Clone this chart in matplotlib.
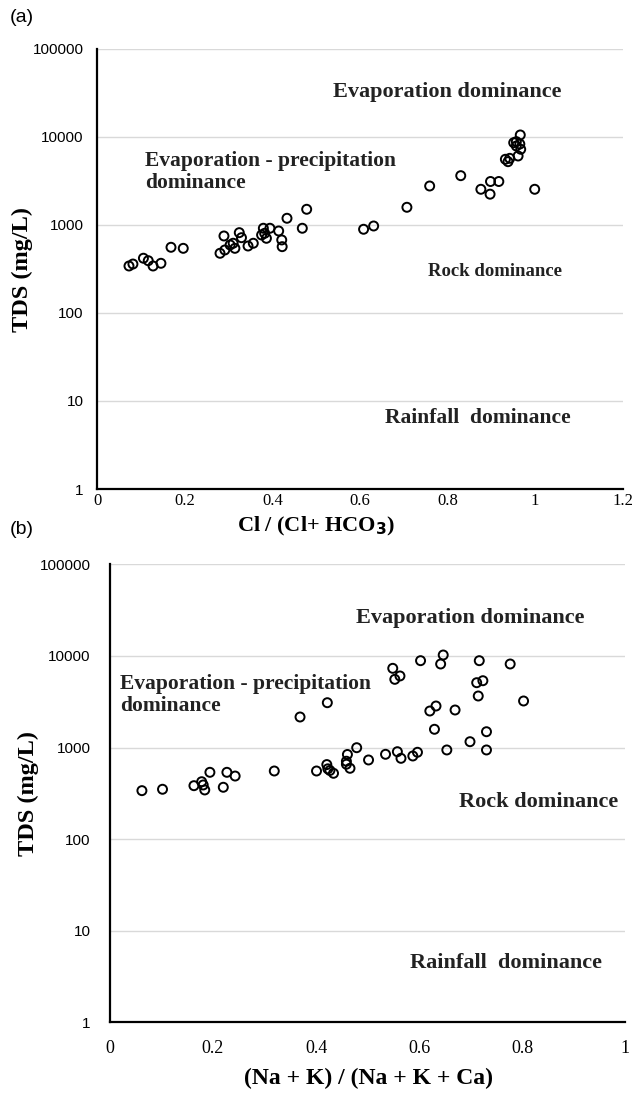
import numpy as np
import matplotlib.pyplot as plt

# panel (a): Cl / (Cl + HCO3) vs TDS
cl_ratio = [0.072, 0.081, 0.105, 0.116, 0.127, 0.145, 0.168, 0.196,
            0.289, 0.280, 0.291, 0.303, 0.310, 0.314, 0.324, 0.329, 0.344, 0.356,
            0.379, 0.382, 0.394, 0.375, 0.386, 0.414, 0.421, 0.422, 0.433, 0.468, 0.478,
            0.608, 0.631, 0.707, 0.759, 0.830, 0.876, 0.898, 0.917, 0.897, 0.999,
            0.932, 0.938, 0.942, 0.961, 0.951, 0.957, 0.965, 0.967, 0.957, 0.966]
tds_a = [342, 360, 419, 393, 342, 367, 558, 543,
         750, 477, 520, 593, 620, 543, 818, 717, 577, 620,
         918, 805, 918, 770, 706, 855, 676, 567, 1192, 918, 1508,
         894, 974, 1589, 2773, 3633, 2545, 3120, 3120, 2239, 2545,
         5580, 5240, 5720, 6080, 8610, 8850, 8320, 7250, 7900, 10540]

# panel (b): (Na + K) / (Na + K + Ca) vs TDS
na_ratio = [0.062, 0.102, 0.163, 0.178, 0.181, 0.184, 0.194, 0.220, 0.227, 0.243,
            0.319, 0.369, 0.401, 0.421, 0.423, 0.427, 0.434, 0.422,
            0.461, 0.459, 0.459, 0.466, 0.479, 0.502, 0.535, 0.558, 0.565, 0.588, 0.597,
            0.549, 0.553, 0.563, 0.603, 0.647, 0.642, 0.717, 0.777, 0.712, 0.724,
            0.715, 0.803, 0.621, 0.633, 0.670, 0.630, 0.699, 0.731, 0.654, 0.731]
tds_b = [338, 350, 383, 423, 390, 344, 536, 368, 536, 488,
         554, 2153, 554, 651, 585, 561, 523, 3084,
         839, 708, 657, 593, 995, 731, 843, 900, 762, 808, 887,
         7320, 5550, 6040, 8870, 10230, 8160, 8870, 8160, 5100, 5360,
         3650, 3220, 2503, 2838, 2567, 1581, 1157, 1487, 940, 940]

yticks = [1, 10, 100, 1000, 10000, 100000]
ytick_labels = ['1', '10', '100', '1000', '10000', '100000']
xticks_a = [0, 0.2, 0.4, 0.6, 0.8, 1, 1.2]
xtick_labels_a = ['0', '0.2', '0.4', '0.6', '0.8', '1', '1.2']
xticks_b = [0, 0.2, 0.4, 0.6, 0.8, 1]
xtick_labels_b = ['0', '0.2', '0.4', '0.6', '0.8', '1']

serif = 'Liberation Serif'
sans = 'Liberation Sans'

fig = plt.figure(figsize=(6.35, 10.93), dpi=100)
ax_a = fig.add_axes([0.1535, 0.5526, 0.8271, 0.4026])
ax_b = fig.add_axes([0.1732, 0.0647, 0.8111, 0.4190])


def style(ax, xmax, xticks, xlabels, ypad, xpad, xsize):
    ax.set_yscale('log')
    ax.set_ylim(1, 100000)
    ax.set_xlim(0, xmax)
    ax.set_yticks(yticks)
    ax.set_yticklabels(ytick_labels, fontfamily=sans, fontsize=11)
    ax.yaxis.set_minor_locator(plt.NullLocator())
    ax.set_xticks(xticks)
    ax.set_xticklabels(xlabels, fontfamily=serif, fontsize=xsize)
    ax.tick_params(axis='y', length=0, pad=ypad)
    ax.tick_params(axis='x', length=0, pad=xpad)
    ax.grid(axis='y', color='#d9d9d9', linewidth=1)
    ax.set_axisbelow(True)
    for s in ['top', 'right']:
        ax.spines[s].set_visible(False)
    for s in ['left', 'bottom']:
        ax.spines[s].set_linewidth(1.6)
        ax.spines[s].set_color('black')


style(ax_a, 1.2, xticks_a, xtick_labels_a, 10, 3, 12)
style(ax_b, 1.0, xticks_b, xtick_labels_b, 14, 13, 13)

ax_a.scatter(cl_ratio, tds_a, s=42, facecolors='none', edgecolors='black', linewidths=1.4, zorder=3)
ax_b.scatter(na_ratio, tds_b, s=42, facecolors='none', edgecolors='black', linewidths=1.4, zorder=3)

txt = dict(fontfamily=serif, fontweight='bold', color='#222222', va='center', ha='left')

ax_a.text(0.538, 32400, 'Evaporation dominance', fontsize=16, **txt)
ax_a.text(0.108, 4000, 'Evaporation - precipitation\ndominance', fontsize=15.5,
          linespacing=1.1, **txt)
ax_a.text(0.755, 300, 'Rock dominance', fontsize=13.5, **txt)
ax_a.text(0.658, 6.4, 'Rainfall  dominance', fontsize=15.5, **txt)

ax_b.text(0.478, 25900, 'Evaporation dominance', fontsize=16, **txt)
ax_b.text(0.019, 3740, 'Evaporation - precipitation\ndominance', fontsize=15.5,
          linespacing=1.1, **txt)
ax_b.text(0.678, 254, 'Rock dominance', fontsize=16, **txt)
ax_b.text(0.583, 4.4, 'Rainfall  dominance', fontsize=16, **txt)

lab = dict(fontfamily=serif, fontweight='bold')
fig.text(22 / 635, 1 - 270 / 1093, 'TDS (mg/L)', rotation=90, va='center', ha='center',
         fontsize=17.5, **lab)
fig.text(28 / 635, 1 - 793 / 1093, 'TDS (mg/L)', rotation=90, va='center', ha='center',
         fontsize=17.5, **lab)
fig.text(316 / 635, 1 - 526 / 1093, 'Cl / (Cl+ HCO$_\\mathbf{3}$)', va='center', ha='center',
         fontsize=16, **lab)
fig.text(368 / 635, 1 - 1078 / 1093, '(Na + K) / (Na + K + Ca)', va='center', ha='center',
         fontsize=17, **lab)

fig.text(10 / 635, 1 - 18 / 1093, '(a)', fontfamily=sans, fontsize=14, va='center', ha='left')
fig.text(10 / 635, 1 - 530 / 1093, '(b)', fontfamily=sans, fontsize=14, va='center', ha='left')

fig.savefig('out.png', dpi=100, facecolor='white')
